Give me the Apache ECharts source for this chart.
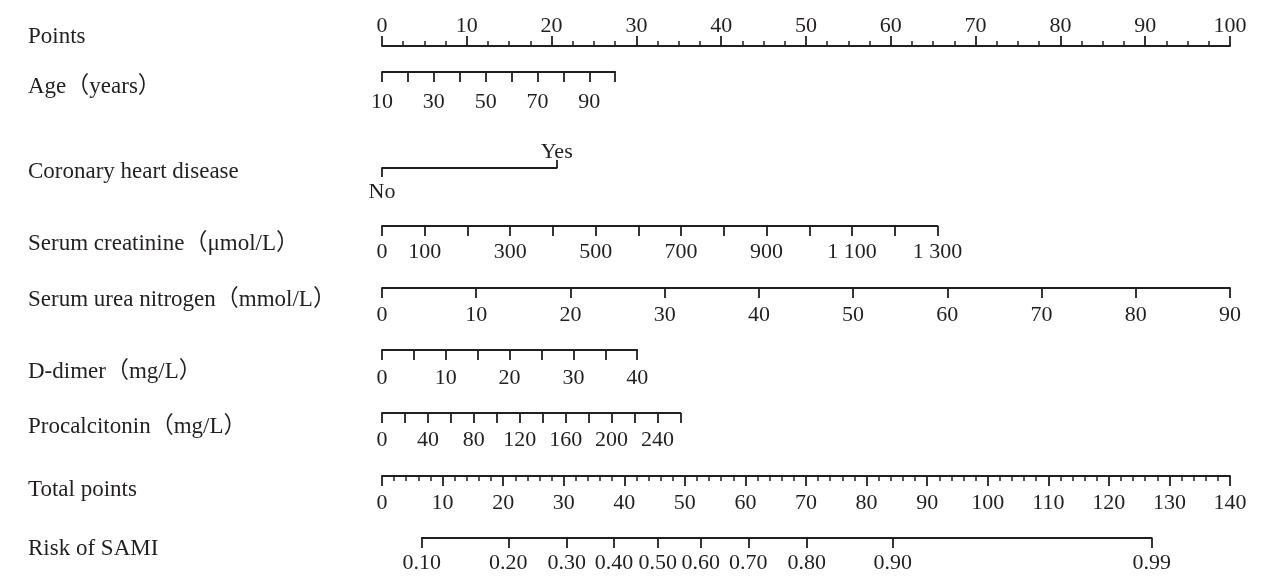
<!DOCTYPE html>
<html>
<head>
<meta charset="utf-8">
<title>Nomogram SAMI</title>
<script src="https://cdn.jsdelivr.net/npm/echarts@6/dist/echarts.min.js"></script>
<style>
html, body { margin: 0; padding: 0; background: #fff; }
#chart { width: 1262px; height: 585px; }
</style>
</head>
<body>
<div id="chart"></div>
<script>
// ---- data ----
var rowNames = ['Points', 'Age（years）', 'Coronary heart disease', 'Serum creatinine（μmol/L）',
  'Serum urea nitrogen（mmol/L）', 'D-dimer（mg/L）', 'Procalcitonin（mg/L）', 'Total points', 'Risk of SAMI']

var ageTicks = [10, 20, 30, 40, 50, 60, 70, 80, 90, 100]
var ageLabels = [10, 30, 50, 70, 90]
var agePoints = 27.5 // points at age 100

var chdLevels = ['No', 'Yes']
var chdPoints = [0, 20.6]

var creatTicks = [0, 100, 200, 300, 400, 500, 600, 700, 800, 900, 1000, 1100, 1200, 1300]
var creatLabels = [0, 100, 300, 500, 700, 900, 1100, 1300]
var creatPoints = 65.5

var ureaTicks = [0, 10, 20, 30, 40, 50, 60, 70, 80, 90]
var ureaLabels = [0, 10, 20, 30, 40, 50, 60, 70, 80, 90]
var ureaPoints = 100

var ddimerTicks = [0, 5, 10, 15, 20, 25, 30, 35, 40]
var ddimerLabels = [0, 10, 20, 30, 40]
var ddimerPoints = 30.1

var pctTicks = [0, 20, 40, 60, 80, 100, 120, 140, 160, 180, 200, 220, 240, 260]
var pctLabels = [0, 40, 80, 120, 160, 200, 240]
var pctPoints = 35.2

var totalMax = 140
var riskLabels = ['0.10', '0.20', '0.30', '0.40', '0.50', '0.60', '0.70', '0.80', '0.90', '0.99']
var riskTotalPoints = [6.55, 20.85, 30.49, 38.30, 45.51, 52.61, 60.48, 70.11, 84.31, 127.07]

// ---- layout ----
var INK = '#231f20'
var FONT = '"Liberation Serif", "Noto Sans CJK SC", serif'
var LEFT = 382
var FULL = 848
var nameY = [37, 87, 172, 244, 300, 372, 427, 490, 549]

var grids = [], xAxes = [], yAxes = []

function thousands(v) {
  var s = String(v)
  return v >= 1000 ? s.replace(/(\d)(\d{3})$/, '$1 $2') : s
}

// one axis row; from/to are fractions of the full points width
function addRow(cfg) {
  var idx = grids.length
  var top = cfg.position === 'top' ? cfg.lineY : cfg.lineY - 10
  grids.push({
    left: LEFT + cfg.from * FULL,
    width: (cfg.to - cfg.from) * FULL,
    top: top,
    height: 10,
    containLabel: false,
    outerBoundsMode: 'none'
  })
  var ax = {
    type: 'value',
    gridIndex: idx,
    position: cfg.position,
    min: cfg.min,
    max: cfg.max,
    splitLine: { show: false },
    axisLine: { show: cfg.line !== false, onZero: false, lineStyle: { color: INK, width: 1.8 } },
    axisTick: { show: true, length: cfg.tickLen || 10, lineStyle: { color: INK, width: 1.8 } },
    axisLabel: {
      show: true,
      margin: cfg.margin,
      color: INK,
      fontFamily: FONT,
      fontSize: 22,
      showMinLabel: true,
      showMaxLabel: true,
      hideOverlap: false,
      formatter: cfg.formatter || thousands
    }
  }
  if (cfg.interval) ax.interval = cfg.interval
  if (cfg.ticks) ax.axisTick.customValues = cfg.ticks
  if (cfg.labels) ax.axisLabel.customValues = cfg.labels
  if (cfg.minor) {
    ax.minorTick = { show: true, splitNumber: cfg.minor, length: 5, lineStyle: { color: INK, width: 1.5 } }
  }
  xAxes.push(ax)
  yAxes.push({ type: 'value', gridIndex: idx, show: false })
}

// Points
addRow({ lineY: 46, position: 'top', from: 0, to: 1, min: 0, max: 100, interval: 10, minor: 4, margin: 9 })
// Age
addRow({ lineY: 72, position: 'bottom', from: 0, to: agePoints / 100, min: ageTicks[0], max: ageTicks[ageTicks.length - 1],
  ticks: ageTicks, labels: ageLabels, margin: 19 })
// Coronary heart disease: line + "No" below
addRow({ lineY: 168, position: 'bottom', from: chdPoints[0] / 100, to: chdPoints[1] / 100, min: 0, max: 1,
  ticks: [0], labels: [0], tickLen: 9, margin: 13, formatter: function (v) { return chdLevels[v] } })
// "Yes" above
addRow({ lineY: 168, position: 'top', from: chdPoints[0] / 100, to: chdPoints[1] / 100, min: 0, max: 1, line: false,
  ticks: [1], labels: [1], tickLen: 8, margin: 5, formatter: function (v) { return chdLevels[v] } })
// Serum creatinine
addRow({ lineY: 226, position: 'bottom', from: 0, to: creatPoints / 100, min: 0, max: creatTicks[creatTicks.length - 1],
  ticks: creatTicks, labels: creatLabels, margin: 15 })
// Serum urea nitrogen
addRow({ lineY: 288, position: 'bottom', from: 0, to: ureaPoints / 100, min: 0, max: ureaTicks[ureaTicks.length - 1],
  ticks: ureaTicks, labels: ureaLabels, margin: 16 })
// D-dimer
addRow({ lineY: 350, position: 'bottom', from: 0, to: ddimerPoints / 100, min: 0, max: ddimerTicks[ddimerTicks.length - 1],
  ticks: ddimerTicks, labels: ddimerLabels, margin: 17 })
// Procalcitonin
addRow({ lineY: 413, position: 'bottom', from: 0, to: pctPoints / 100, min: 0, max: pctTicks[pctTicks.length - 1],
  ticks: pctTicks, labels: pctLabels, margin: 16 })
// Total points
addRow({ lineY: 476, position: 'bottom', from: 0, to: 1, min: 0, max: totalMax, interval: 10, minor: 5, margin: 16 })
// Risk of SAMI
addRow({ lineY: 538, position: 'bottom', from: riskTotalPoints[0] / totalMax, to: riskTotalPoints[riskTotalPoints.length - 1] / totalMax,
  min: riskTotalPoints[0], max: riskTotalPoints[riskTotalPoints.length - 1],
  ticks: riskTotalPoints, labels: riskTotalPoints, margin: 14,
  formatter: function (v) { return riskLabels[riskTotalPoints.indexOf(v)] } })

var option = {
  backgroundColor: '#fff',
  animation: false,
  grid: grids,
  xAxis: xAxes,
  yAxis: yAxes,
  graphic: rowNames.map(function (n, i) {
    return {
      type: 'text',
      x: 28,
      y: nameY[i],
      style: { text: n, fill: INK, fontSize: 23, fontFamily: FONT, verticalAlign: 'middle', textVerticalAlign: 'middle' }
    }
  }),
  series: []
}

var myChart = echarts.init(document.getElementById('chart'))
myChart.setOption(option)
window.onresize = function () {
  myChart.resize()
}
</script>
</body>
</html>
